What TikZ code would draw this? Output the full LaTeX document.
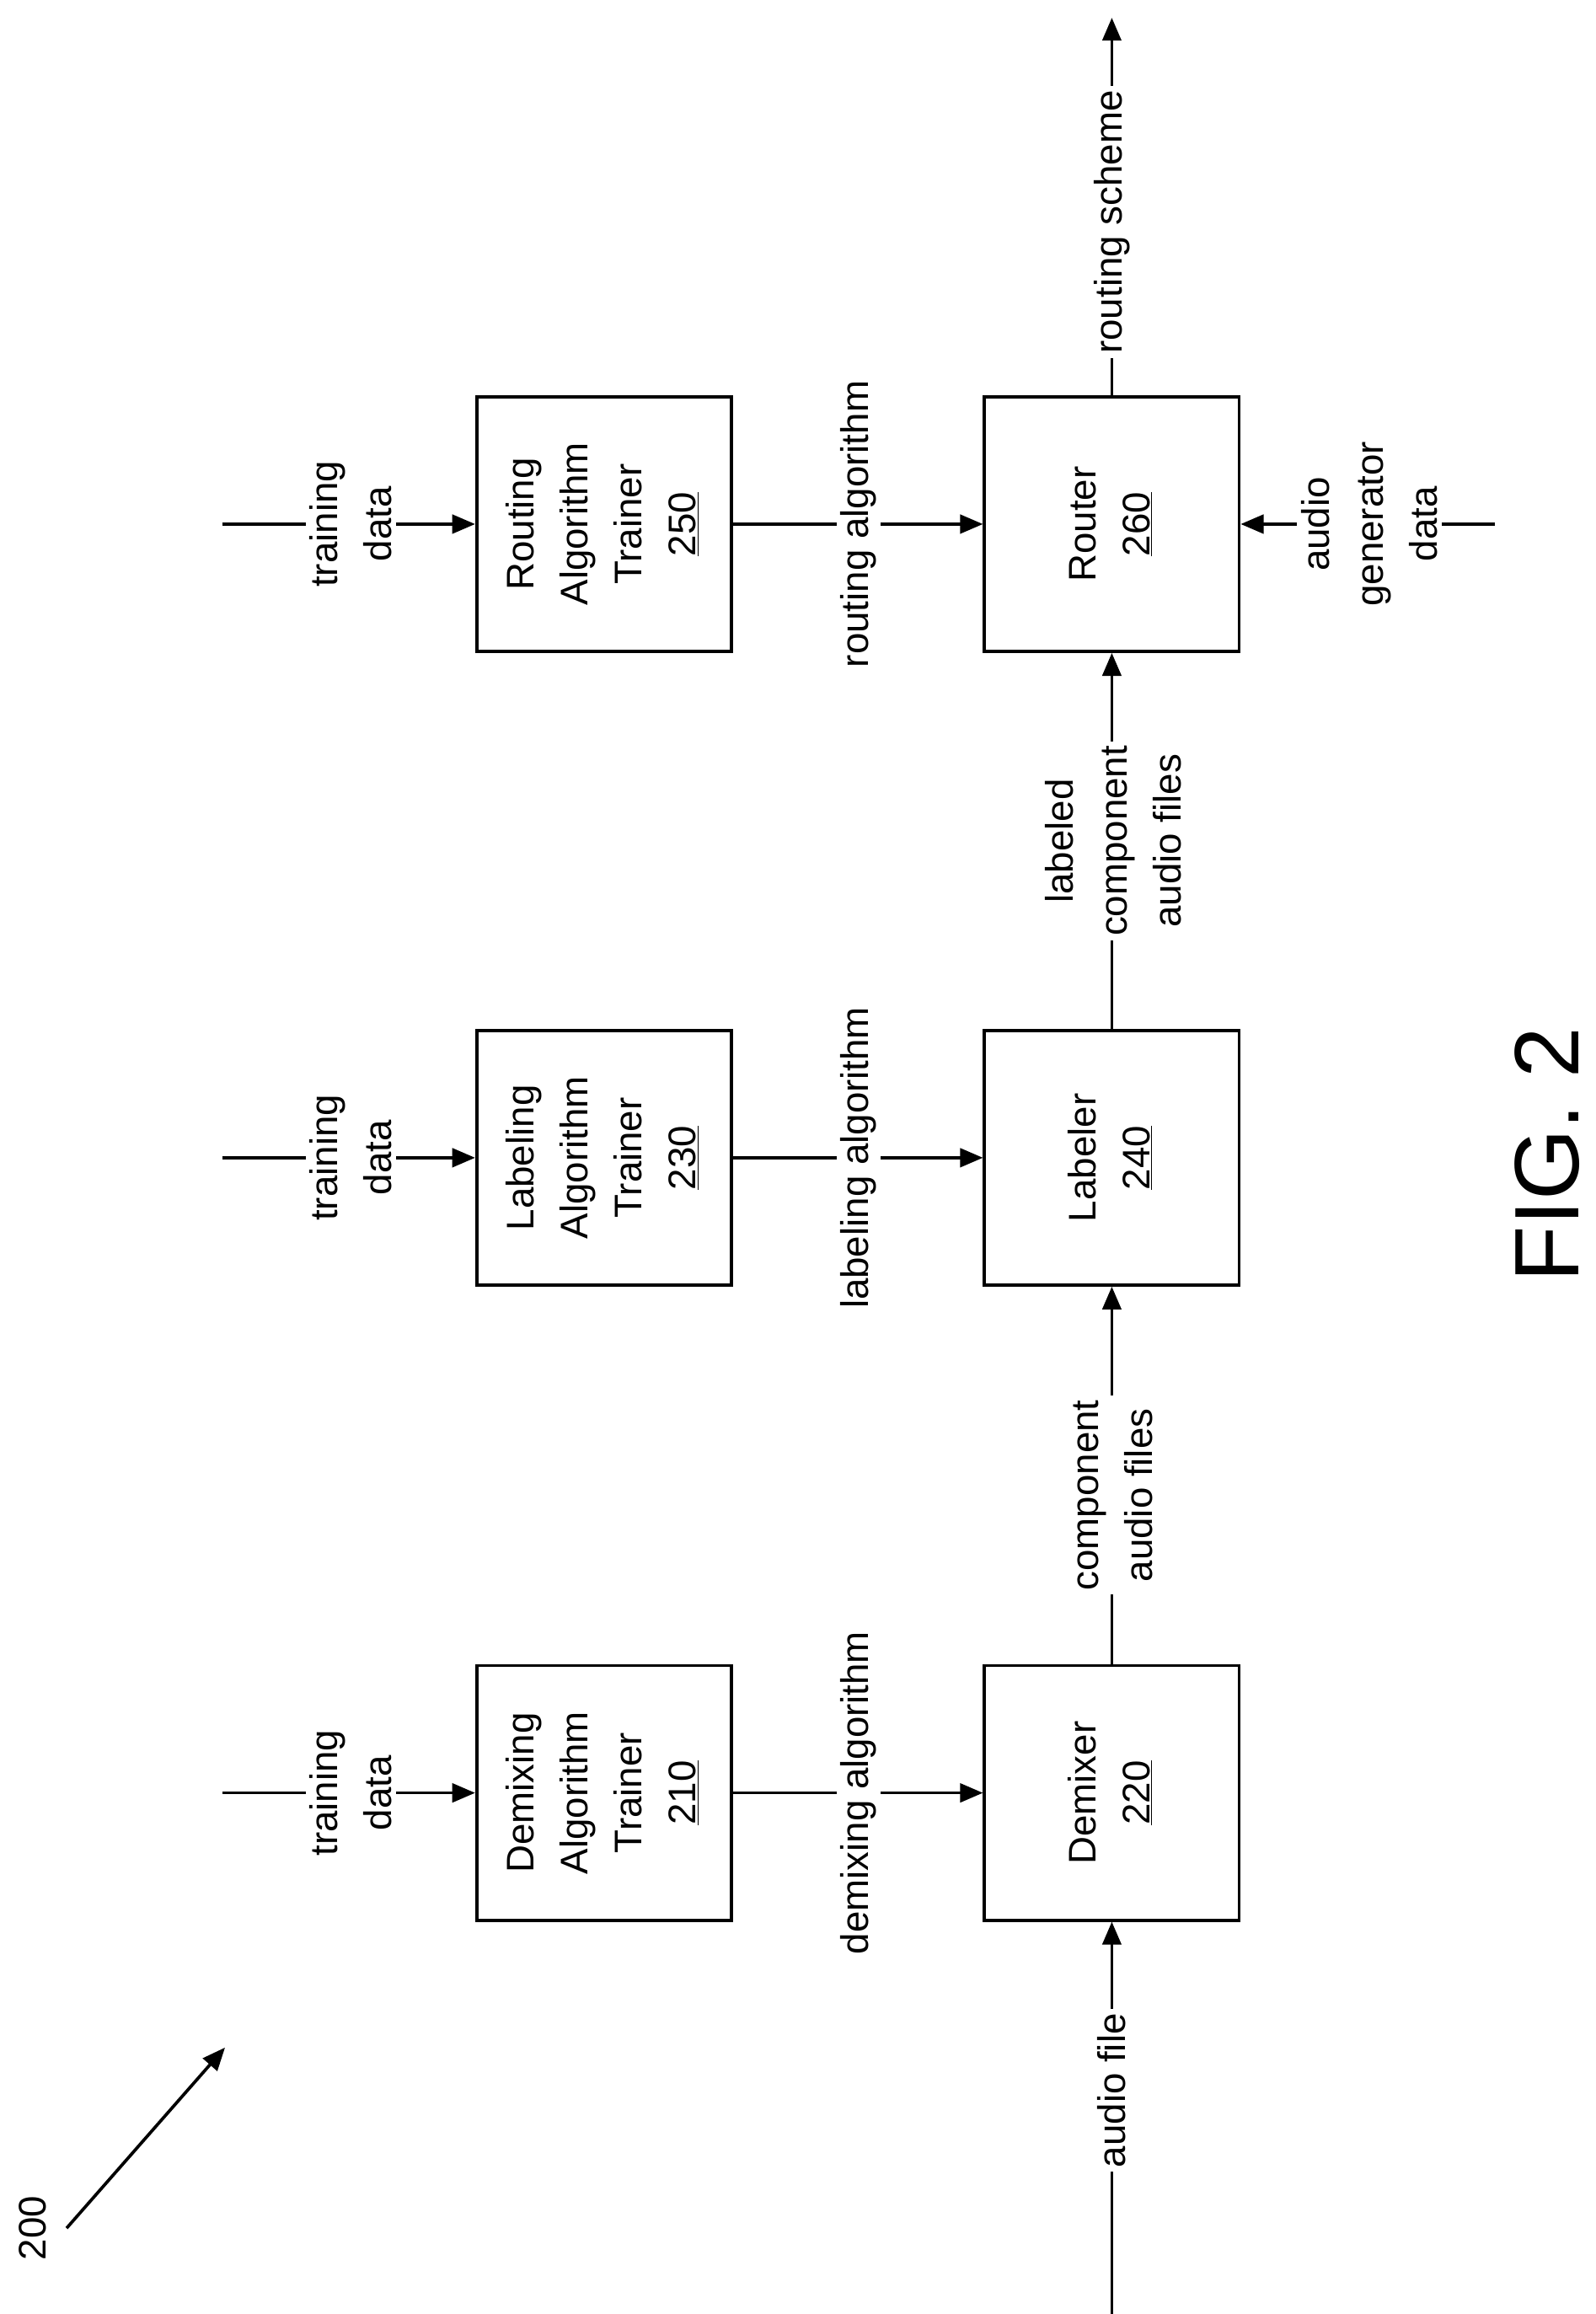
\documentclass[tikz,border=0pt]{standalone}
\usepackage{fontspec}
\setmainfont{Liberation Sans}
\usetikzlibrary{arrows.meta}
\begin{document}
\begin{tikzpicture}[x=0.05cm,y=-0.05cm,
  box/.style={draw,line width=3pt,minimum width=8.6cm,minimum height=8.6cm,align=center,font=\fontsize{37}{52}\selectfont},
  lab/.style={rotate=90,fill=white,align=center,inner sep=4pt,font=\fontsize{37}{52}\selectfont},
  ln/.style={line width=3pt},
  ar/.style={line width=3pt,-{Triangle[length=22pt,width=18pt]}}]
\useasboundingbox (0,0) rectangle (1078,1563);
% boxes
\node[box] (b250) at (408,354) {\rotatebox{90}{\begin{tabular}{c}Routing\\Algorithm\\Trainer\\\underline{250}\end{tabular}}};
\node[box] (b230) at (408,782) {\rotatebox{90}{\begin{tabular}{c}Labeling\\Algorithm\\Trainer\\\underline{230}\end{tabular}}};
\node[box] (b210) at (408,1211) {\rotatebox{90}{\begin{tabular}{c}Demixing\\Algorithm\\Trainer\\\underline{210}\end{tabular}}};
\node[box] (b260) at (751,354) {\rotatebox{90}{\begin{tabular}{c}Router\\\underline{260}\end{tabular}}};
\node[box] (b240) at (751,782) {\rotatebox{90}{\begin{tabular}{c}Labeler\\\underline{240}\end{tabular}}};
\node[box] (b220) at (751,1211) {\rotatebox{90}{\begin{tabular}{c}Demixer\\\underline{220}\end{tabular}}};
% free ends
\coordinate (t1) at (150,354);
\coordinate (t2) at (150,782);
\coordinate (t3) at (150,1211);
\coordinate (af) at (751,1563);
\coordinate (rs) at (751,12);
\coordinate (ag) at (1010,354);
% connectors
\draw[ar] (t1) -- (b250.west);
\draw[ar] (t2) -- (b230.west);
\draw[ar] (t3) -- (b210.west);
\draw[ar] (b250.east) -- (b260.west);
\draw[ar] (b230.east) -- (b240.west);
\draw[ar] (b210.east) -- (b220.west);
\draw[ar] (af) -- (b220.south);
\draw[ar] (b220.north) -- (b240.south);
\draw[ar] (b240.north) -- (b260.south);
\draw[ar] (b260.north) -- (rs);
\draw[ar] (ag) -- (b260.east);
% labels
\node[lab] (l1) at (237,354) {training\\data};
\node[lab] (l2) at (237,782) {training\\data};
\node[lab] (l3) at (237,1211) {training\\data};
\node[lab] (l4) at (580,354) {routing algorithm};
\node[lab] (l5) at (580,782) {labeling algorithm};
\node[lab] (l6) at (580,1211) {demixing algorithm};
\node[lab] (l7) at (751,1412) {audio file};
\node[lab] (l8) at (752,1010) {component\\audio files};
\node[lab] (l9) at (752,568) {labeled\\component\\audio files};
\node[lab] (l10) at (751,150) {routing scheme};
\node[lab] (l11) at (925,354) {audio\\generator\\data};
% ref numeral
\node[rotate=90,font=\fontsize{37}{52}\selectfont] (n200) at (22,1505) {200};
\coordinate (p200) at (152,1383);
\draw[ar] (45,1505) -- (p200);
\node[rotate=90,font=\fontsize{88}{100}\selectfont] (fig) at (1045,780) {FIG. 2};
\end{tikzpicture}
\end{document}
